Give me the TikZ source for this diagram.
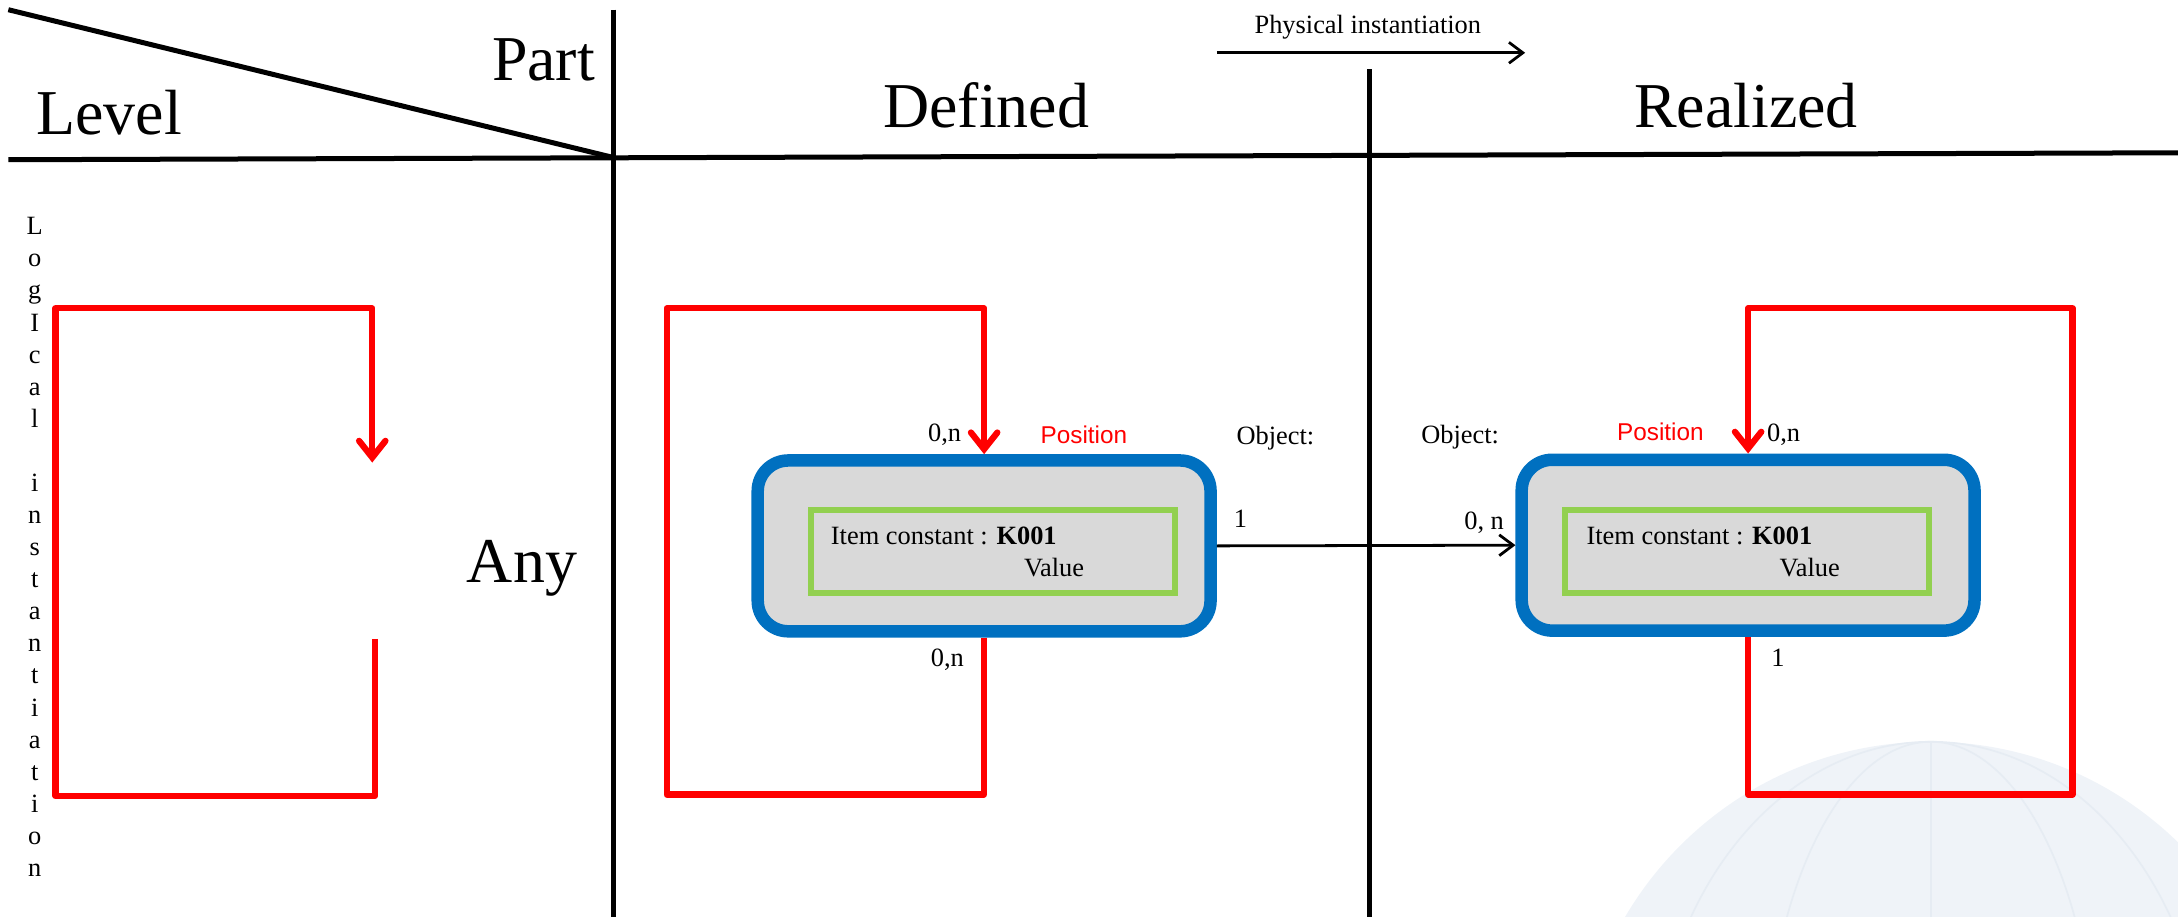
\documentclass[tikz,border=0pt]{standalone}
\usepackage{fontspec}
\setmainfont{Liberation Serif}
\newfontfamily\possans{Liberation Sans}
\usetikzlibrary{arrows.meta}

\definecolor{entblue}{RGB}{0,112,192}
\definecolor{entgrey}{RGB}{217,217,217}
\definecolor{itemgreen}{RGB}{146,208,80}
\definecolor{loopred}{RGB}{255,0,0}
\definecolor{globefill}{RGB}{239,243,248}
\definecolor{globeline}{RGB}{230,236,243}

\tikzset{
  gridline/.style={line width=3.6pt},
  headtext/.style={font=\fontsize{46}{50}\selectfont, inner sep=0pt, anchor=base west},
  smalltext/.style={font=\fontsize{19}{22}\selectfont, inner sep=0pt, anchor=base west},
  postext/.style={font=\possans\fontsize{17.5}{20}\selectfont, text=loopred, inner sep=0pt, anchor=base west},
  entity/.style={draw=entblue, line width=9pt, fill=entgrey, rounded corners=22pt,
                 minimum width=326pt, minimum height=123pt, inner sep=0pt},
  itembox/.style={draw=itemgreen, line width=4.3pt, minimum width=262pt, minimum height=60pt, inner sep=0pt},
  redloop/.style={draw=loopred, line width=4.5pt, line join=round,
                  -{Straight Barb[length=12pt,width=19pt,line cap=round]}},
  relation/.style={line width=2pt, -{Straight Barb[length=10pt,width=15pt]}},
}

\begin{document}
\begin{tikzpicture}[x=1pt,y=-1pt]
\useasboundingbox (0,0) rectangle (1568,660);

% faint globe in the background
\begin{scope}
  \clip (0,0) rectangle (1568,660);
  \fill[globefill] (1390,789) circle (255);
  \draw[globeline, line width=1.2pt] (1390,789) ellipse (120 and 255);
  \draw[globeline, line width=1.2pt] (1390,789) ellipse (200 and 255);
  \draw[globeline, line width=1.2pt] (1390,534) -- (1390,660);
\end{scope}

% header grid
\coordinate (hl) at (6,115);
\coordinate (hr) at (1568,110);
\coordinate (corner) at (442,113.5);
\coordinate (diagtop) at (6,7);
\coordinate (v1top) at (442,7);
\coordinate (v1bot) at (442,660);
\coordinate (v2top) at (986,50);
\coordinate (v2bot) at (986,660);
\draw[gridline] (hl) -- (hr);
\draw[gridline] (diagtop) -- (corner);
\draw[gridline] (v1top) -- (v1bot);
\draw[gridline] (v2top) -- (v2bot);

\node[headtext] (level) at (26,97) {Level};
\node[headtext] (part) at (354,58) {Part};
\node[headtext, anchor=base] (defined) at (710,92) {Defined};
\node[headtext, anchor=base] (realized) at (1257,92) {Realized};
\node[headtext] (any) at (336,419) {Any};

% physical instantiation
\node[smalltext] (phys) at (903,24) {Physical instantiation};
\coordinate (physa) at (876,38);
\coordinate (physb) at (1098,38);
\draw[relation] (physa) -- (physb);

% vertical caption
\foreach \ch [count=\i from 0] in {L,o,g,I,c,a,l,{},i,n,s,t,a,n,t,i,a,t,i,o,n}
  \node[font=\fontsize{19}{22}\selectfont, inner sep=0pt, anchor=base] (cap\i) at (25,{169+23.1*\i}) {\ch};

% entities
\node[entity] (defent) at (708.5,393) {};
\node[itembox] (defitem) at (715,397) {};
\node[smalltext] (defk) at (598,392) {Item constant : \textbf{K001}};
\node[smalltext] (defv) at (737,415) {Value};

\node[entity] (realent) at (1258.5,392.5) {};
\node[itembox] (realitem) at (1258,397) {};
\node[smalltext] (realk) at (1142,392) {Item constant : \textbf{K001}};
\node[smalltext] (realv) at (1281,415) {Value};

% recursive position loops
\coordinate (lbot) at (270,460);
\coordinate (ltip) at (268,333);
\draw[redloop] (lbot) |- (40,573) |- (ltip |- 0,222) -- (ltip);

\draw[redloop] (defent.south) |- (480,572) |- (defent.north |- 0,222) -- (defent.north);
\draw[redloop] (realent.south) |- (1492,572) |- (realent.north |- 0,222) -- (realent.north);

% relation between defined and realized
\draw[relation] (defent.east) -- (realent.west);

% labels
\node[smalltext] (dtop) at (668,318) {0,n};
\node[postext] (dpos) at (749,319) {Position};
\node[smalltext] (dobj) at (890,320) {Object:};
\node[smalltext] (done) at (888,380) {1};
\node[smalltext] (dbot) at (670,480) {0,n};

\node[smalltext] (robj) at (1023,319) {Object:};
\node[smalltext] (rzn) at (1054,381) {0, n};
\node[postext] (rpos) at (1164,317) {Position};
\node[smalltext] (rtop) at (1272,318) {0,n};
\node[smalltext] (rbot) at (1275,480) {1};
\end{tikzpicture}
\end{document}
